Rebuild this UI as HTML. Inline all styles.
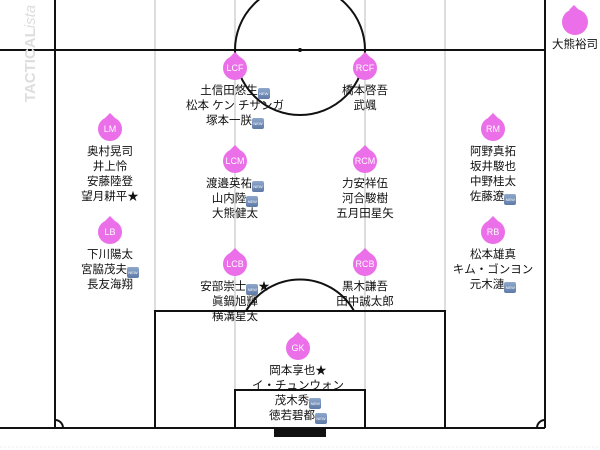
<!DOCTYPE html>
<html><head><meta charset="utf-8"><style>
body{margin:0;width:600px;height:450px;background:#fff;position:relative;overflow:hidden;font-family:"Liberation Sans","Noto Sans CJK JP",sans-serif;}
svg{position:absolute;left:0;top:0}
.n{position:absolute;width:24px;height:24px;border-radius:50%;background:#ea6fe8;color:#fff;font-size:9px;line-height:24px;text-align:center;font-family:"Liberation Sans",sans-serif;margin-left:-1px;margin-top:-1px}
.n:before{content:"";position:absolute;left:7px;top:-4px;border-left:5px solid transparent;border-right:5px solid transparent;border-bottom:5px solid #ea6fe8;}
.t{position:absolute;width:160px;text-align:center;font-size:11.5px;line-height:15px;color:#111;white-space:nowrap;margin-top:1px}
.b{display:inline-block;width:12px;height:11px;border-radius:2px;background:linear-gradient(#8fa8cc,#5e7aa6);color:#fff;font-size:4px;line-height:11px;vertical-align:-1px;text-align:center}
.tac{position:absolute;left:-18px;top:45px;transform:rotate(-90deg);font-size:15px;font-weight:bold;color:#ddd;letter-spacing:0px}
</style></head><body>
<svg width="600" height="450">
<line x1="155" y1="0" x2="155" y2="311" stroke="#ddd" stroke-width="2"/>
<line x1="445" y1="0" x2="445" y2="311" stroke="#ddd" stroke-width="2"/>
<line x1="235" y1="0" x2="235" y2="390" stroke="#ddd" stroke-width="2"/>
<line x1="365" y1="0" x2="365" y2="390" stroke="#ddd" stroke-width="2"/>
<g fill="none" stroke="#111" stroke-width="2">
<line x1="55" y1="0" x2="55" y2="428"/>
<line x1="545" y1="0" x2="545" y2="428"/>
<line x1="0" y1="50" x2="545" y2="50"/>
<line x1="0" y1="428" x2="545" y2="428"/>
<circle cx="300" cy="50" r="65"/>
<rect x="155" y="311" width="290" height="117"/>
<rect x="235" y="390" width="130" height="38"/>
<path d="M246 311 A 62 62 0 0 1 354 311"/>
<path d="M55 420 A8 8 0 0 1 63 428"/>
<path d="M537 428 A8 8 0 0 1 545 420"/>
</g>
<circle cx="300" cy="50" r="2" fill="#111"/>
<rect x="274" y="429" width="52" height="8" fill="#111"/>
<line x1="0" y1="447" x2="600" y2="447" stroke="#eee" stroke-dasharray="2,2"/>
</svg>
<div class="tac">TACTICAL<i style="font-weight:normal">ista</i></div>

<div class="n" style="left:224px;top:57px">LCF</div>
<div class="t" style="left:155px;top:83px">土信田悠生<span class="b">NEW</span><br>松本 ケン チザンガ<br>塚本一朕<span class="b">NEW</span></div>
<div class="n" style="left:354px;top:57px">RCF</div>
<div class="t" style="left:285px;top:83px">橋本啓吾<br>武颯</div>

<div class="n" style="left:99px;top:118px">LM</div>
<div class="t" style="left:30px;top:144px">奥村晃司<br>井上怜<br>安藤陸登<br>望月耕平★</div>
<div class="n" style="left:482px;top:118px">RM</div>
<div class="t" style="left:413px;top:144px">阿野真拓<br>坂井駿也<br>中野桂太<br>佐藤遼<span class="b">NEW</span></div>

<div class="n" style="left:224px;top:150px">LCM</div>
<div class="t" style="left:155px;top:176px">渡邉英祐<span class="b">NEW</span><br>山内陸<span class="b">NEW</span><br>大熊健太</div>
<div class="n" style="left:354px;top:150px">RCM</div>
<div class="t" style="left:285px;top:176px">力安祥伍<br>河合駿樹<br>五月田星矢</div>

<div class="n" style="left:99px;top:221px">LB</div>
<div class="t" style="left:30px;top:247px">下川陽太<br>宮脇茂夫<span class="b">NEW</span><br>長友海翔</div>
<div class="n" style="left:482px;top:221px">RB</div>
<div class="t" style="left:413px;top:247px">松本雄真<br>キム・ゴンヨン<br>元木漣<span class="b">NEW</span></div>

<div class="n" style="left:224px;top:253px">LCB</div>
<div class="t" style="left:155px;top:279px">安部崇士<span class="b">NEW</span>★<br>眞鍋旭輝<br>横溝星太</div>
<div class="n" style="left:354px;top:253px">RCB</div>
<div class="t" style="left:285px;top:279px">黒木謙吾<br>田中誠太郎</div>

<div class="n" style="left:287px;top:337px">GK</div>
<div class="t" style="left:218px;top:363px">岡本享也★<br>イ・チュンウォン<br>茂木秀<span class="b">NEW</span><br>徳若碧都<span class="b">NEW</span></div>

<div class="n" style="left:563px;top:10px;width:26px;height:26px"></div>
<div class="t" style="left:495px;top:37px">大熊裕司</div>
</body></html>
